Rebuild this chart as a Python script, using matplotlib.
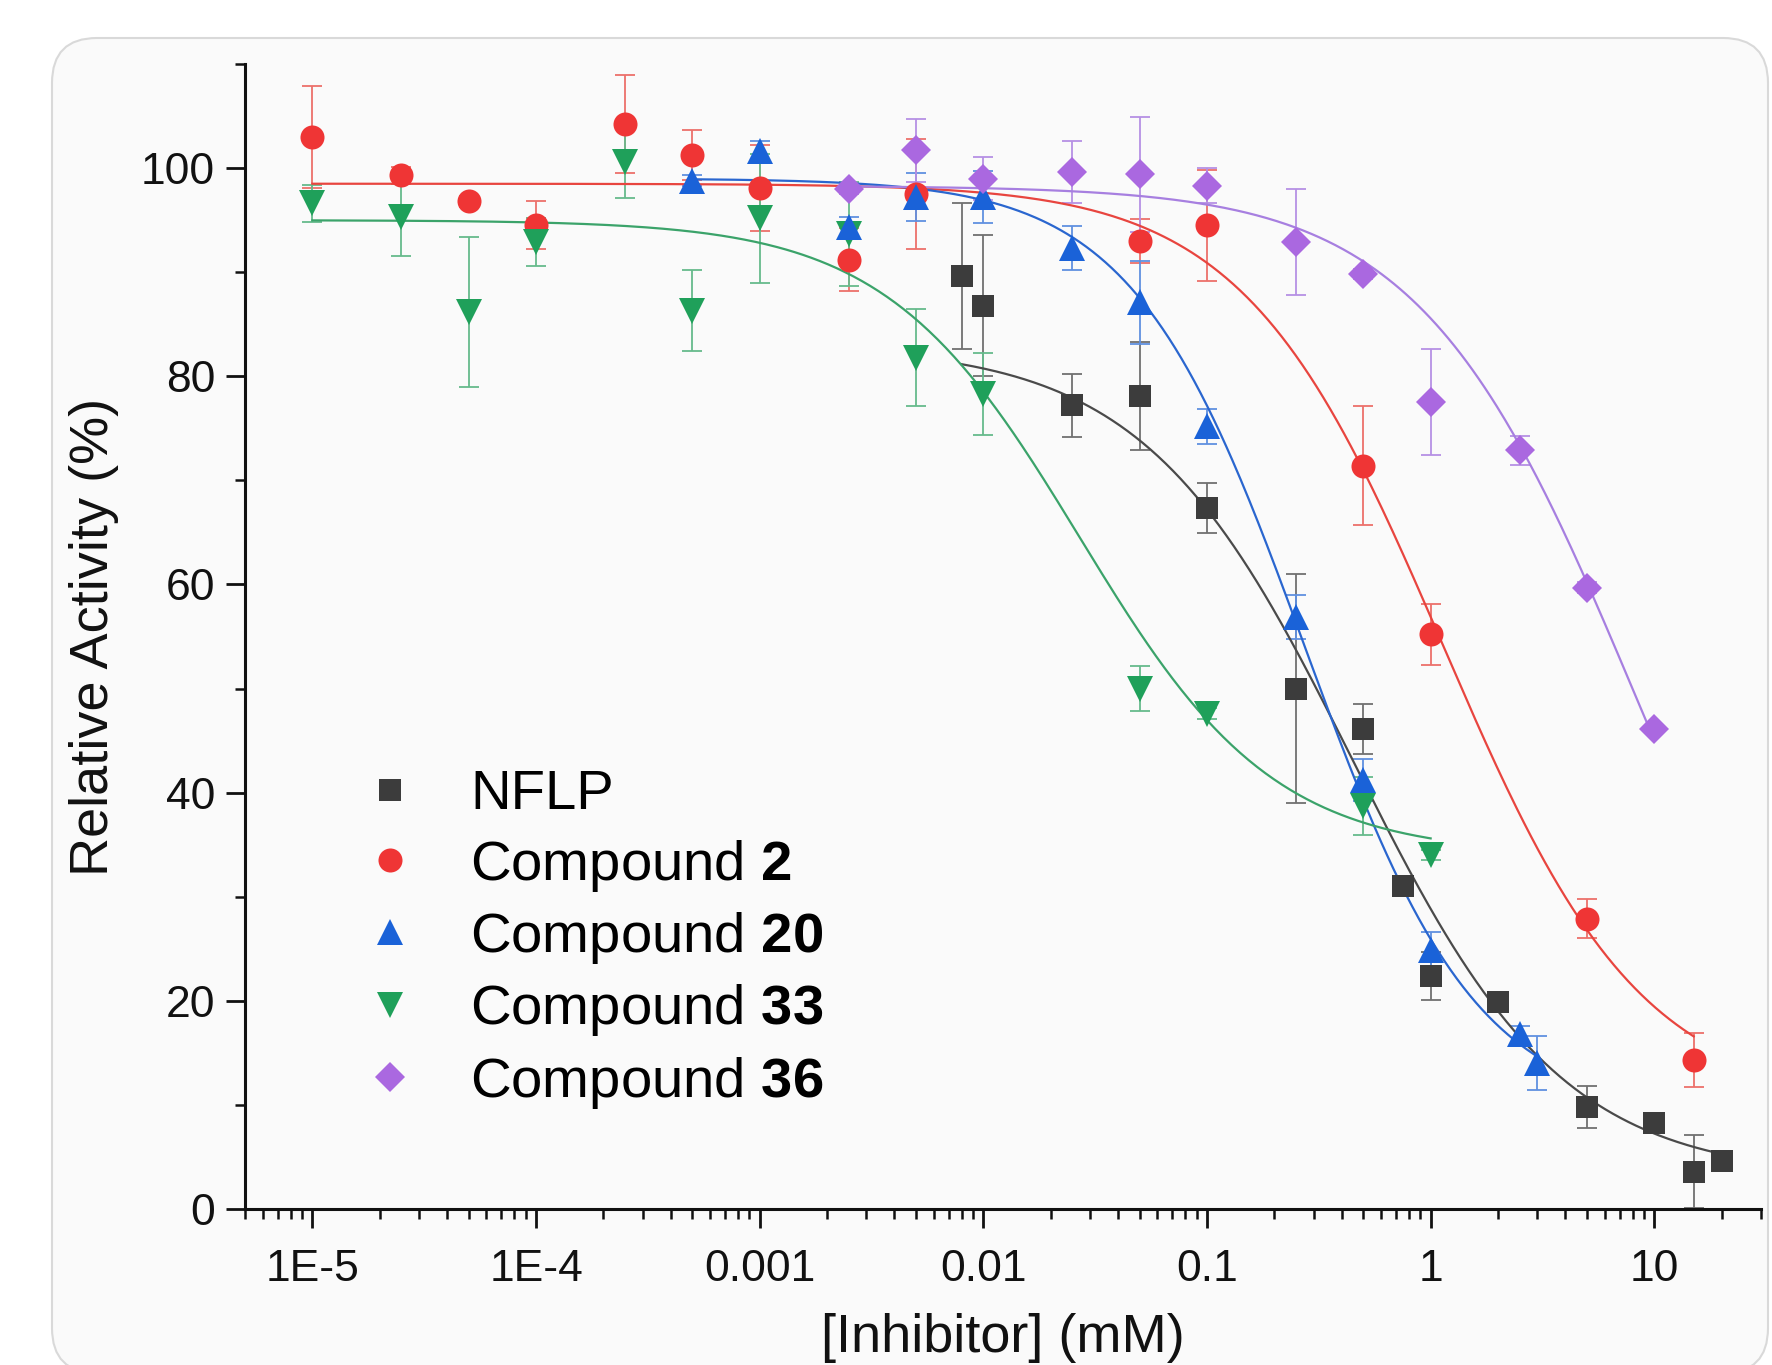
import numpy as np
import matplotlib
matplotlib.use('Agg')
import matplotlib.pyplot as plt
from matplotlib.patches import FancyBboxPatch
from matplotlib.transforms import IdentityTransform
from matplotlib.lines import Line2D
from matplotlib.ticker import MultipleLocator, LogLocator, NullFormatter

plt.rcParams['font.family'] = ['Liberation Sans', 'DejaVu Sans']
plt.rcParams['mathtext.fontset'] = 'custom'
plt.rcParams['mathtext.rm'] = 'Liberation Sans'
plt.rcParams['mathtext.bf'] = 'Liberation Sans:bold'

# ---------------- data ----------------
nflp_conc = [0.008, 0.01, 0.025, 0.05, 0.1, 0.25, 0.5, 0.75, 1, 2, 5, 10, 15, 20]
nflp_act = [89.6, 86.8, 77.2, 78.1, 67.3, 50.0, 46.1, 31.0, 22.4, 19.9, 9.8, 8.3, 3.6, 4.6]
nflp_err = [7.0, 6.8, 3.0, 5.2, 2.4, 11.0, 2.4, 0, 2.3, 0, 2.0, 0, 3.5, 0]

c2_conc = [1e-5, 2.5e-5, 5e-5, 1e-4, 2.5e-4, 5e-4, 1e-3, 2.5e-3, 5e-3, 0.05, 0.1, 0.5, 1, 5, 15]
c2_act = [103.0, 99.3, 96.8, 94.5, 104.2, 101.3, 98.1, 91.2, 97.5, 93.0, 94.5, 71.4, 55.2, 27.9, 14.3]
c2_err = [4.9, 0.8, 0.5, 2.3, 4.7, 2.4, 4.1, 3.0, 5.3, 2.1, 5.3, 5.7, 2.9, 1.9, 2.6]

c20_conc = [5e-4, 1e-3, 2.5e-3, 5e-3, 0.01, 0.025, 0.05, 0.1, 0.25, 0.5, 1, 2.5, 3]
c20_act = [98.8, 101.6, 94.3, 97.2, 97.2, 92.3, 87.1, 75.2, 56.9, 41.2, 24.9, 16.8, 14.0]
c20_err = [0.5, 1.0, 1.0, 2.3, 2.5, 2.1, 4.0, 1.7, 2.1, 2.0, 1.7, 0.8, 2.6]

c33_conc = [1e-5, 2.5e-5, 5e-5, 1e-4, 2.5e-4, 5e-4, 1e-3, 2.5e-3, 5e-3, 0.01, 0.05, 0.1, 0.5, 1]
c33_act = [96.6, 95.3, 86.2, 92.9, 100.6, 86.3, 95.2, 93.7, 81.8, 78.3, 50.0, 47.6, 38.7, 34.0]
c33_err = [1.8, 3.7, 7.2, 2.3, 3.5, 3.9, 6.2, 5.0, 4.7, 3.9, 2.2, 0.5, 2.8, 0.5]

c36_conc = [2.5e-3, 5e-3, 0.01, 0.025, 0.05, 0.1, 0.25, 0.5, 1, 2.5, 5, 10]
c36_act = [98.0, 101.7, 99.0, 99.6, 99.4, 98.3, 92.9, 89.8, 77.5, 72.9, 59.7, 46.1]
c36_err = [0.5, 3.0, 2.1, 3.0, 5.5, 1.7, 5.1, 0.5, 5.1, 1.4, 0.5, 0]

# four-parameter logistic fit parameters (estimated from the drawn curves)
fit_top = [83.0, 98.5, 99.0, 95.0, 98.3]
fit_bottom = [3.0, 10.0, 9.0, 34.0, 0.0]
fit_ic50 = [0.451, 1.13, 0.274, 0.027, 8.3]
fit_hill = [0.93, 0.975, 1.13, 1.0, 0.9]
fit_lo = [0.008, 1e-5, 5e-4, 1e-5, 2.5e-3]
fit_hi = [20, 15, 3, 1, 10]

legend_labels = ['NFLP', r'Compound $\mathbf{2}$', r'Compound $\mathbf{20}$',
                 r'Compound $\mathbf{33}$', r'Compound $\mathbf{36}$']
xtick_vals = [1e-5, 1e-4, 1e-3, 1e-2, 1e-1, 1, 10]
xtick_labels = ['1E-5', '1E-4', '0.001', '0.01', '0.1', '1', '10']
ytick_vals = [0, 20, 40, 60, 80, 100]
xlabel = '[Inhibitor] (mM)'
ylabel = 'Relative Activity (%)'

# ---------------- styles ----------------
concs = [nflp_conc, c2_conc, c20_conc, c33_conc, c36_conc]
acts = [nflp_act, c2_act, c20_act, c33_act, c36_act]
errs = [nflp_err, c2_err, c20_err, c33_err, c36_err]
markers = ['s', 'o', '^', 'v', 'D']
msizes = [15.5, 17.3, 18.5, 18.5, 15.0]
mcolors = ['#3c3c3c', '#ef3535', '#1a62d8', '#1fa05a', '#aa68e0']
lcolors = ['#4a4a4a', '#e8453f', '#2a66cf', '#3ba36a', '#a77fe0']
ecolors = ['#707070', '#ec706b', '#6090e0', '#66ba8c', '#b690e4']
zorders = [3.5, 3.0, 3.2, 3.1, 3.3]

fig = plt.figure(figsize=(17.72, 13.65), dpi=100)
fig.patch.set_facecolor('white')

card = FancyBboxPatch((52, -8), 1716, 1327 + 8, boxstyle='round,pad=0,rounding_size=45',
                      transform=IdentityTransform(), facecolor='#fafafa',
                      edgecolor='#d9d9d9', linewidth=1.5, zorder=0)
fig.add_artist(card)

ax = fig.add_axes([0.1383, 0.1143, 0.8555, 0.8388])
ax.set_facecolor('none')
ax.set_xscale('log')
ax.set_xlim(5e-6, 30)
ax.set_ylim(0, 110)

for i in range(5):
    x = np.array(concs[i], dtype=float)
    y = np.array(acts[i], dtype=float)
    e = np.array(errs[i], dtype=float)
    m = e > 0
    ax.errorbar(x[m], y[m], yerr=e[m], fmt='none', ecolor=ecolors[i],
                elinewidth=1.3, capsize=7.5, capthick=1.3, zorder=2)
    xf = np.logspace(np.log10(fit_lo[i]), np.log10(fit_hi[i]), 400)
    yf = fit_bottom[i] + (fit_top[i] - fit_bottom[i]) / (1 + (xf / fit_ic50[i]) ** fit_hill[i])
    ax.plot(xf, yf, color=lcolors[i], lw=1.6, zorder=2.5)
    ax.plot(x, y, linestyle='none', marker=markers[i], markersize=msizes[i],
            color=mcolors[i], markeredgewidth=0, zorder=zorders[i])

for s in ['top', 'right']:
    ax.spines[s].set_visible(False)
for s in ['left', 'bottom']:
    ax.spines[s].set_linewidth(2.2)
    ax.spines[s].set_color('#111111')

ax.set_xticks(xtick_vals)
ax.set_xticklabels(xtick_labels)
ax.xaxis.set_minor_locator(LogLocator(base=10, subs=np.arange(2, 10), numticks=50))
ax.xaxis.set_minor_formatter(NullFormatter())
ax.set_yticks(ytick_vals)
ax.yaxis.set_minor_locator(MultipleLocator(10))

ax.tick_params(which='major', direction='out', length=13.5, width=2.0,
               labelsize=32, colors='#111111')
ax.tick_params(axis='y', which='major', pad=8)
ax.tick_params(axis='x', which='major', pad=15)
ax.tick_params(which='minor', direction='out', length=7.5, width=1.8, colors='#111111')

ax.set_xlabel(xlabel, fontsize=39, color='#111111')
ax.xaxis.set_label_coords(0.5, -0.091)
ax.set_ylabel(ylabel, fontsize=39, color='#111111')
ax.yaxis.set_label_coords(-0.083, 0.5)

handles = [Line2D([], [], linestyle='none', marker=markers[i], markersize=msizes[i],
                  color=mcolors[i], markeredgewidth=0) for i in range(5)]
ax.legend(handles, legend_labels, loc='upper left', bbox_to_anchor=(0.077, 0.384),
          frameon=False, fontsize=40.5, borderpad=0, handlelength=1.0,
          handletextpad=0.93, labelspacing=0.29, borderaxespad=0)

fig.savefig('out.png', dpi=100, facecolor='white')
